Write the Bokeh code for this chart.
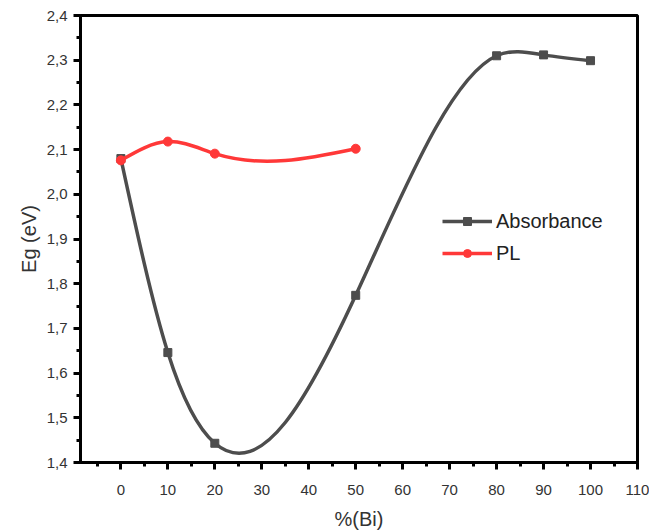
import numpy as np
from bokeh.plotting import figure
from bokeh.models import (Range1d, SingleIntervalTicker, CustomJSTickFormatter,
                          Legend, LegendItem, ColumnDataSource)
from bokeh.embed import file_html
from bokeh.resources import INLINE

# ---- data ----
abs_x = [0, 10, 20, 50, 80, 90, 100]
abs_y = [2.08, 1.646, 1.443, 1.774, 2.31, 2.312, 2.299]
pl_x = [0, 10, 20, 50]
pl_y = [2.076, 2.118, 2.091, 2.102]

ABS_COLOR = "#4d4d4d"
PL_COLOR = "#ff3838"
FONT = "Liberation Sans"


def spline_bezier(xs, ys):
    """Natural cubic spline through the data, expressed as cubic Bezier segments."""
    x = np.asarray(xs, float)
    y = np.asarray(ys, float)
    n = len(x)
    h = np.diff(x)
    A = np.zeros((n, n))
    b = np.zeros(n)
    A[0, 0] = 1
    A[-1, -1] = 1
    for i in range(1, n - 1):
        A[i, i - 1] = h[i - 1]
        A[i, i] = 2 * (h[i - 1] + h[i])
        A[i, i + 1] = h[i]
        b[i] = 6 * ((y[i + 1] - y[i]) / h[i] - (y[i] - y[i - 1]) / h[i - 1])
    M = np.linalg.solve(A, b)
    d0 = (y[1:] - y[:-1]) / h - h * (2 * M[:-1] + M[1:]) / 6
    d1 = (y[1:] - y[:-1]) / h + h * (M[:-1] + 2 * M[1:]) / 6
    return dict(x0=x[:-1], y0=y[:-1], x1=x[1:], y1=y[1:],
                cx0=x[:-1] + h / 3, cy0=y[:-1] + d0 * h / 3,
                cx1=x[1:] - h / 3, cy1=y[1:] - d1 * h / 3)


p = figure(frame_width=557, frame_height=447, output_backend="svg",
           toolbar_location=None,
           x_range=Range1d(-8.6, 110.001), y_range=Range1d(1.4, 2.4001),
           min_border_left=80, min_border_top=15, min_border_right=12,
           min_border_bottom=60)
p.background_fill_color = "white"
p.border_fill_color = "white"
p.xgrid.visible = False
p.ygrid.visible = False
p.outline_line_color = "black"
p.outline_line_width = 3
p.outline_line_alpha = 1

# axes
p.xaxis.ticker = SingleIntervalTicker(interval=10, num_minor_ticks=2)
p.yaxis.ticker = SingleIntervalTicker(interval=0.1, num_minor_ticks=2)
p.yaxis.formatter = CustomJSTickFormatter(code="return tick.toFixed(1).replace('.', ',');")
p.xaxis.formatter = CustomJSTickFormatter(code="return tick.toFixed(0);")
for ax in (p.xaxis, p.yaxis):
    ax.axis_line_width = 3
    ax.axis_line_color = "black"
    ax.major_tick_line_width = 3
    ax.minor_tick_line_width = 3
    ax.major_tick_in = 0
    ax.major_tick_out = 7
    ax.minor_tick_in = 0
    ax.minor_tick_out = 4
    ax.major_label_text_font = FONT
    ax.major_label_text_font_size = "15px"
    ax.major_label_text_color = "#333333"
    ax.axis_label_text_font = FONT
    ax.axis_label_text_font_size = "20px"
    ax.axis_label_text_font_style = "normal"
    ax.axis_label_text_color = "#333333"
p.xaxis.axis_label = "%(Bi)"
p.yaxis.axis_label = "Eg (eV)"
p.xaxis.major_label_standoff = 15
p.yaxis.major_label_standoff = 6
p.xaxis.axis_label_standoff = 10
p.yaxis.axis_label_standoff = 4

# curves
abs_curve = p.bezier(source=ColumnDataSource(spline_bezier(abs_x, abs_y)),
                     x0="x0", y0="y0", x1="x1", y1="y1",
                     cx0="cx0", cy0="cy0", cx1="cx1", cy1="cy1",
                     line_color=ABS_COLOR, line_width=3.5)
abs_pts = p.scatter(abs_x, abs_y, marker="square", size=8,
                    fill_color=ABS_COLOR, line_color=ABS_COLOR)
pl_curve = p.bezier(source=ColumnDataSource(spline_bezier(pl_x, pl_y)),
                    x0="x0", y0="y0", x1="x1", y1="y1",
                    cx0="cx0", cy0="cy0", cx1="cx1", cy1="cy1",
                    line_color=PL_COLOR, line_width=3.5)
pl_pts = p.scatter(pl_x, pl_y, marker="circle", size=9,
                   fill_color=PL_COLOR, line_color=PL_COLOR)

legend = Legend(items=[LegendItem(label="Absorbance", renderers=[abs_curve, abs_pts]),
                       LegendItem(label="PL", renderers=[pl_curve, pl_pts])],
                location=(362, 193))
legend.border_line_color = None
legend.background_fill_alpha = 0
legend.label_text_font = FONT
legend.label_text_font_size = "20px"
legend.label_text_color = "#222222"
legend.glyph_width = 50
legend.glyph_height = 20
legend.label_height = 32
legend.spacing = 0
legend.padding = 0
legend.margin = 0
legend.label_standoff = 4
p.add_layout(legend, "center")

open("out.html", "w").write(file_html(p, INLINE))
